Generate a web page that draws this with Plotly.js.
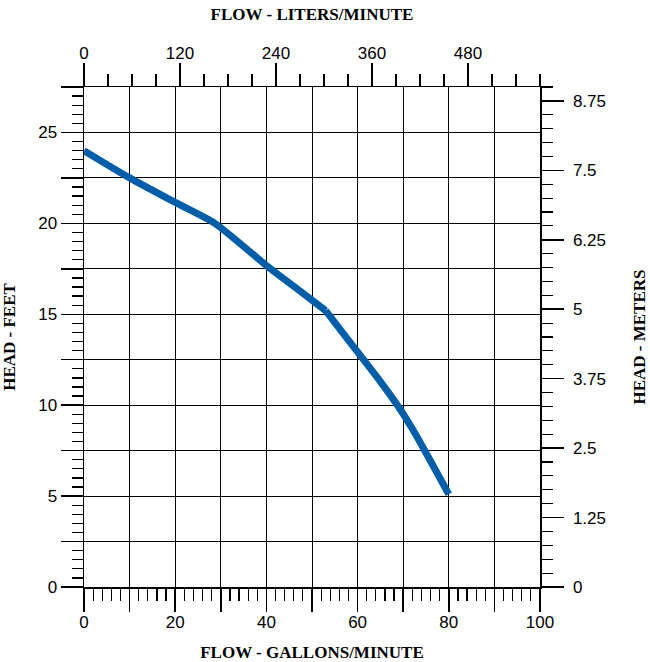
<!DOCTYPE html>
<html>
<head>
<meta charset="utf-8">
<script src="https://cdn.plot.ly/plotly-3.0.1.min.js"></script>
<style>
  html, body { margin: 0; padding: 0; background: #ffffff; }
  #chart { width: 650px; height: 662px; }
</style>
</head>
<body>
<div id="chart"></div>
<script>
// Pump curve data; the curve has a bend at 53 gpm
const flowGpm = [0, 10, 20, 28.7, 40.4, 47, 53, 57, 61, 65, 69, 72, 74.5, 80];
const headFeet = [24, 22.5, 21.15, 20, 17.6, 16.35, 15.2, 13.9, 12.6, 11.3, 9.9, 8.7, 7.6, 5.1];
const bendIndex = 6;

// Bottom axis: gallons/minute
const gpmTickVals = [0, 10, 20, 30, 40, 50, 60, 70, 80, 90, 100];
const gpmTickText = ['0', '', '20', '', '40', '', '60', '', '80', '', '100'];

// Left axis: feet
const feetTickVals = [0, 2.5, 5, 7.5, 10, 12.5, 15, 17.5, 20, 22.5, 25, 27.5];
const feetTickText = ['0', '', '5', '', '10', '', '15', '', '20', '', '25', ''];

// Top axis: liters/minute
const lpmTickVals = [0, 120, 240, 360, 480];
const lpmTickText = ['0', '120', '240', '360', '480'];

// Right axis: meters
const meterTickVals = [0, 1.25, 2.5, 3.75, 5, 6.25, 7.5, 8.75];
const meterTickText = ['0', '1.25', '2.5', '3.75', '5', '6.25', '7.5', '8.75'];

const tickFont = { family: 'Liberation Sans, Arial, sans-serif', size: 17, color: '#000' };
const titleFont = { family: 'Liberation Serif, Times New Roman, serif', size: 17, color: '#000', weight: 'bold' };

const curveLine = { color: '#005ea8', width: 7, shape: 'spline', smoothing: 0.6 };

const traces = [
  {
    x: flowGpm.slice(0, bendIndex + 1),
    y: headFeet.slice(0, bendIndex + 1),
    type: 'scatter', mode: 'lines', line: curveLine,
    xaxis: 'x', yaxis: 'y', hoverinfo: 'skip', showlegend: false
  },
  {
    x: flowGpm.slice(bendIndex),
    y: headFeet.slice(bendIndex),
    type: 'scatter', mode: 'lines', line: curveLine,
    xaxis: 'x', yaxis: 'y', hoverinfo: 'skip', showlegend: false
  },
  // invisible traces to activate secondary axes
  { x: [0], y: [0], xaxis: 'x2', yaxis: 'y', mode: 'markers', marker: { opacity: 0 }, showlegend: false, hoverinfo: 'skip' },
  { x: [0], y: [0], xaxis: 'x', yaxis: 'y2', mode: 'markers', marker: { opacity: 0 }, showlegend: false, hoverinfo: 'skip' }
];

const layout = {
  width: 650,
  height: 662,
  margin: { l: 84, r: 110, t: 87, b: 75, pad: 0 },
  paper_bgcolor: '#ffffff',
  plot_bgcolor: '#ffffff',
  showlegend: false,
  xaxis: {
    range: [0, 100],
    tickmode: 'array',
    tickvals: gpmTickVals,
    ticktext: gpmTickText,
    ticks: 'outside',
    ticklen: 23,
    tickwidth: 1.5,
    tickcolor: '#000',
    minor: { dtick: 2, ticks: 'outside', ticklen: 12, tickwidth: 1.2, tickcolor: '#000', showgrid: false },
    showgrid: true,
    gridcolor: '#000',
    gridwidth: 1,
    zeroline: false,
    showline: true,
    linecolor: '#000',
    linewidth: 1.5,
    tickfont: tickFont,
    ticklabelstandoff: -4,
    title: { text: 'FLOW - GALLONS/MINUTE', font: titleFont, standoff: 15 },
    fixedrange: true
  },
  xaxis2: {
    overlaying: 'x',
    side: 'top',
    range: [0, 570],
    tickmode: 'array',
    tickvals: lpmTickVals,
    ticktext: lpmTickText,
    ticks: 'outside',
    ticklen: 23,
    tickwidth: 1.5,
    tickcolor: '#000',
    minor: { dtick: 30, ticks: 'outside', ticklen: 12, tickwidth: 1.2, tickcolor: '#000', showgrid: false },
    showgrid: false,
    zeroline: false,
    showline: true,
    linecolor: '#000',
    linewidth: 1.5,
    tickfont: tickFont,
    ticklabelstandoff: -3,
    title: { text: 'FLOW - LITERS/MINUTE', font: titleFont, standoff: 19 },
    fixedrange: true
  },
  yaxis: {
    range: [0, 27.5],
    tickmode: 'array',
    tickvals: feetTickVals,
    ticktext: feetTickText,
    ticks: 'outside',
    ticklen: 22,
    tickwidth: 1.5,
    tickcolor: '#000',
    minor: { dtick: 0.5, ticks: 'outside', ticklen: 11, tickwidth: 1.2, tickcolor: '#000', showgrid: false },
    showgrid: true,
    gridcolor: '#000',
    gridwidth: 1,
    zeroline: false,
    showline: true,
    linecolor: '#000',
    linewidth: 1.5,
    tickfont: tickFont,
    title: { text: 'HEAD - FEET', font: titleFont, standoff: 20 },
    fixedrange: true
  },
  yaxis2: {
    overlaying: 'y',
    side: 'right',
    range: [0, 9],
    tickmode: 'array',
    tickvals: meterTickVals,
    ticktext: meterTickText,
    ticks: 'outside',
    ticklen: 22,
    tickwidth: 1.5,
    tickcolor: '#000',
    minor: { dtick: 0.25, ticks: 'outside', ticklen: 11, tickwidth: 1.2, tickcolor: '#000', showgrid: false },
    showgrid: false,
    zeroline: false,
    showline: true,
    linecolor: '#000',
    linewidth: 1.5,
    tickfont: tickFont,
    ticklabelstandoff: 6,
    title: { text: 'HEAD - METERS', font: titleFont, standoff: 28 },
    fixedrange: true
  }
};

Plotly.newPlot('chart', traces, layout, { displayModeBar: false, staticPlot: true });
</script>
</body>
</html>
